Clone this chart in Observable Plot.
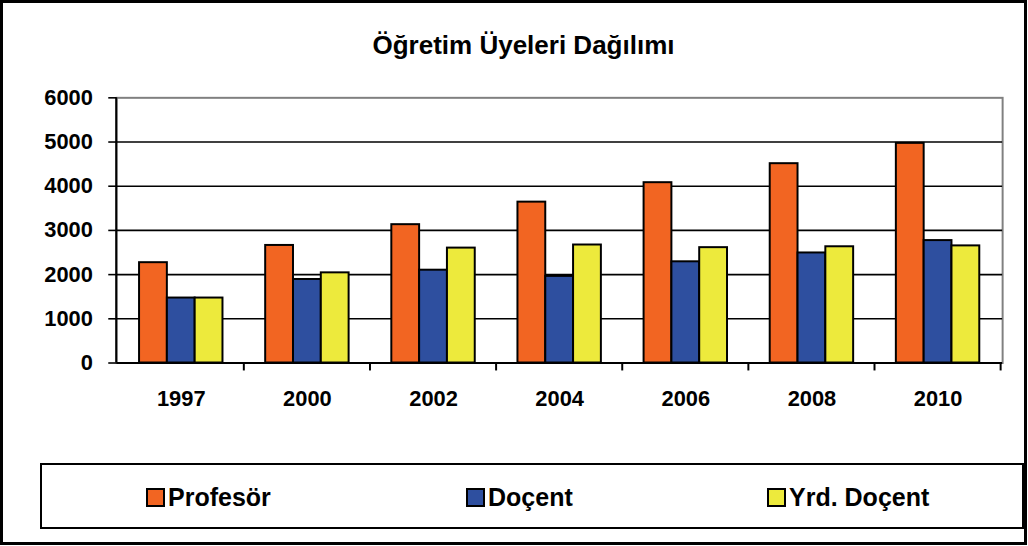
<!DOCTYPE html>
<html><head><meta charset="utf-8">
<script src="https://cdn.jsdelivr.net/npm/d3@7"></script>
<script src="https://cdn.jsdelivr.net/npm/@observablehq/plot@0.6"></script>
<style>
html,body{margin:0;padding:0;background:#fff;}
#chart{position:relative;width:1027px;height:545px;box-sizing:border-box;border:3px solid #000;font-family:"Liberation Sans",Arial,sans-serif;overflow:hidden;background:#fff;}
#title{position:absolute;left:20px;right:0;top:28px;line-height:28px;text-align:center;font-weight:bold;font-size:26px;color:#000;}
.layer{position:absolute;left:-3px;top:-3px;}
#legend{position:absolute;left:37px;top:460px;width:984px;height:66px;box-sizing:border-box;border:2px solid #000;}
.item{position:absolute;top:21px;display:flex;align-items:center;font-weight:bold;font-size:25px;line-height:22px;color:#000;}
.sw{width:15px;height:15px;border:2px solid #000;margin-right:3px;}
</style>
</head><body>
<div id="chart">
  <div id="title">Öğretim Üyeleri Dağılımı</div>
  <div id="legend"></div>
</div>
<script>
const years = ["1997","2000","2002","2004","2006","2008","2010"];
const series = ["Profesör","Doçent","Yrd. Doçent"];
const profesor  = [2270, 2660, 3130, 3640, 4080, 4510, 4970];
const docent    = [1470, 1890, 2100, 1960, 2290, 2490, 2770];
const yrdDocent = [1470, 2040, 2600, 2670, 2610, 2630, 2650];
const colors = ["#F26522","#2E4F9F","#EDEA3C"];
const yTicks = [0,1000,2000,3000,4000,5000,6000];

const values = [profesor, docent, yrdDocent];
const rows = years.flatMap((y,i)=>series.map((s,j)=>({year:y, series:s, value:values[j][i]})));

const common = {width:1028, height:440, marginLeft:117, marginRight:19, marginTop:98, marginBottom:75};
const ff = '"Liberation Sans", Arial, sans-serif';

const base = Plot.plot({
  ...common,
  style:{fontFamily:ff, fontSize:"22px", fontWeight:"bold", color:"#000", background:"transparent"},
  x:{domain:years, paddingInner:0.33, paddingOuter:0.165, axis:null},
  y:{domain:[0,6000], axis:null},
  marks:[
    Plot.frame({stroke:"#808080", strokeWidth:2}),
    Plot.gridY(yTicks.filter(t=>t>0 && t<6000), {stroke:"#000", strokeOpacity:1, strokeWidth:1.6}),
    Plot.axisY(yTicks, {tickSize:8, tickPadding:16, tickFormat:d=>String(d), stroke:"#000", strokeWidth:1.6, fontSize:22, fontWeight:"bold", fill:"#000", label:null}),
    Plot.axisX(years, {tickSize:0, tickPadding:28, fontSize:22, fontWeight:"bold", fill:"#000", label:null}),
    Plot.ruleY([0], {stroke:"#000", strokeWidth:2})
  ]
});
base.classList.add("layer");
{
  const xs = base.scale("x"), ys = base.scale("y");
  const svg = d3.select(base);
  const g = svg.append("g").attr("stroke","#000").attr("stroke-width",2);
  g.append("line").attr("x1",xs.range[0]).attr("x2",xs.range[0]).attr("y1",ys.apply(6000)).attr("y2",ys.apply(0));
  years.forEach(y=>{
    const bx = xs.apply(y) + xs.bandwidth/2 + xs.step/2;
    g.append("line").attr("x1",bx).attr("x2",bx).attr("y1",ys.apply(0)).attr("y2",ys.apply(0)+8);
  });
}

const bars = Plot.plot({
  ...common,
  style:{background:"transparent"},
  facet:{data:rows, x:"year", label:null},
  fx:{domain:years, paddingInner:0.33, paddingOuter:0.165, axis:null, label:null},
  x:{domain:series, padding:0, axis:null},
  y:{domain:[0,6000], axis:null},
  color:{domain:series, range:colors},
  marks:[
    Plot.barY(rows, {x:"series", y:"value", fill:"series", stroke:"#000", strokeWidth:2})
  ]
});
bars.classList.add("layer");

const chart = document.getElementById("chart");
chart.insertBefore(base, chart.firstChild);
chart.insertBefore(bars, base.nextSibling);

const legendLefts = [104, 424, 725];
const legend = document.getElementById("legend");
series.forEach((s,i)=>{
  const it = document.createElement("div");
  it.className = "item";
  it.style.left = legendLefts[i] + "px";
  const sw = document.createElement("div");
  sw.className = "sw"; sw.style.background = colors[i];
  it.appendChild(sw);
  const t = document.createElement("span"); t.textContent = s;
  it.appendChild(t);
  legend.appendChild(it);
});
</script>
</body></html>
